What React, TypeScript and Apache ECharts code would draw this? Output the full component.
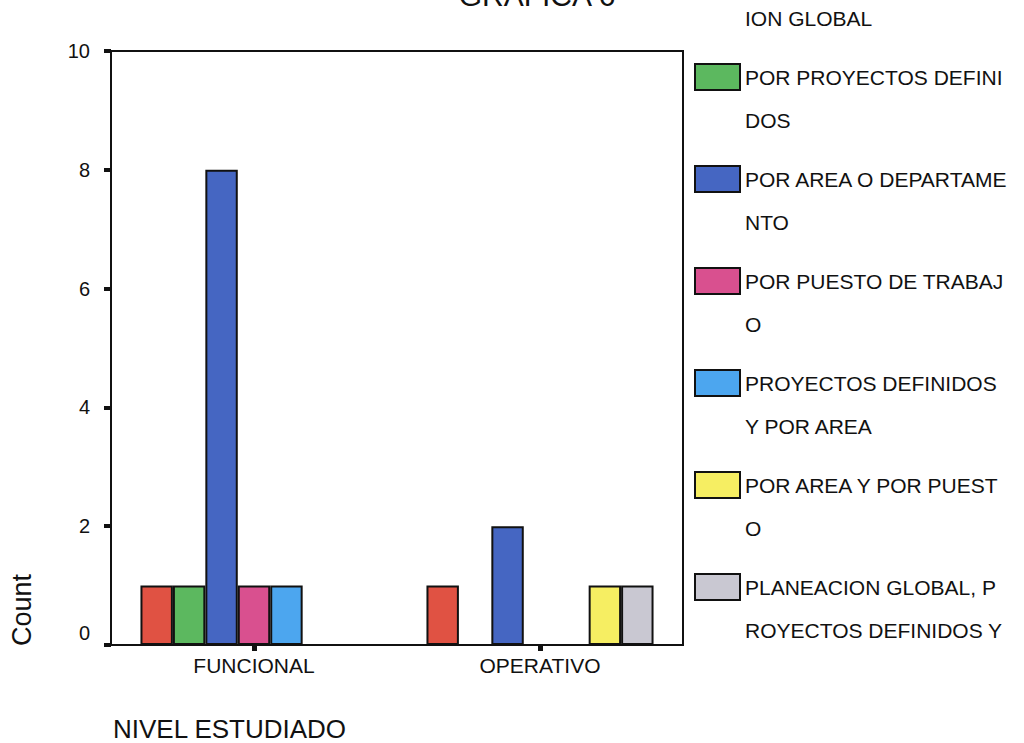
import React, { useEffect, useRef } from "react";
import * as echarts from "echarts";

// Categories on the x axis
const categories = ["FUNCIONAL", "OPERATIVO"];

// One series per planning approach (counts per category)
const seriesNames = [
  "POR MEDIO DE PLANEACION GLOBAL",
  "POR PROYECTOS DEFINIDOS",
  "POR AREA O DEPARTAMENTO",
  "POR PUESTO DE TRABAJO",
  "PROYECTOS DEFINIDOS Y POR AREA",
  "POR AREA Y POR PUESTO",
  "PLANEACION GLOBAL, PROYECTOS DEFINIDOS Y",
];
const planeacionGlobal = [1, 1];
const porProyectos = [1, 0];
const porArea = [8, 2];
const porPuesto = [1, 0];
const proyectosYArea = [1, 0];
const areaYPuesto = [0, 1];
const globalProyectos = [0, 1];
const seriesValues = [
  planeacionGlobal,
  porProyectos,
  porArea,
  porPuesto,
  proyectosYArea,
  areaYPuesto,
  globalProyectos,
];
const seriesColors = [
  "#e05243",
  "#5cb85f",
  "#4566c2",
  "#d9508f",
  "#4ca6ef",
  "#f6ee62",
  "#c9c8d2",
];

const yTicks = [0, 2, 4, 6, 8, 10];

const FONT = "'Liberation Sans', Arial, Helvetica, sans-serif";
const INK = "#111111";

// Legend text wraps every 20 characters
function wrap(s: string, n = 20): string {
  const parts: string[] = [];
  for (let i = 0; i < s.length; i += n) parts.push(s.slice(i, i + n));
  return parts.join("\n");
}

export default function App() {
  const ref = useRef<HTMLDivElement>(null);

  useEffect(() => {
    if (!ref.current) return;
    const chart = echarts.init(ref.current, undefined, { renderer: "svg" });

    const legendTop0 = -25;
    const legendStep = 102;
    const legendItems: any[] = [];
    seriesNames.forEach((name, i) => {
      const cy = legendTop0 + legendStep * i;
      legendItems.push({
        type: "rect",
        shape: { x: 695, y: cy - 13, width: 45, height: 26 },
        style: { fill: seriesColors[i], stroke: "#111", lineWidth: 2 },
      });
      legendItems.push({
        type: "text",
        x: 745,
        y: cy - 21.5,
        style: {
          text: wrap(name),
          fontFamily: FONT,
          fontSize: 21,
          lineHeight: 43,
          fill: INK,
          textAlign: "left",
          textVerticalAlign: "top",
        },
      });
    });

    chart.setOption({
      animation: false,
      backgroundColor: "#ffffff",
      grid: {
        left: 111,
        right: 341,
        top: 51,
        bottom: 98,
        show: true,
        borderColor: "#111",
        borderWidth: 2,
        containLabel: false,
      },
      xAxis: {
        type: "category",
        data: categories,
        axisLine: { show: true, lineStyle: { color: "#111", width: 2 } },
        axisTick: {
          show: true,
          alignWithLabel: true,
          length: 6,
          lineStyle: { color: "#111", width: 5 },
        },
        axisLabel: {
          margin: 10,
          fontFamily: FONT,
          fontSize: 21,
          color: INK,
        },
        splitLine: { show: false },
      },
      yAxis: {
        type: "value",
        min: yTicks[0],
        max: yTicks[yTicks.length - 1],
        interval: 2,
        axisLine: { show: true, lineStyle: { color: "#111", width: 2 } },
        axisTick: {
          show: true,
          length: 7,
          lineStyle: { color: "#111", width: 4 },
        },
        axisLabel: {
          margin: 21,
          fontFamily: FONT,
          fontSize: 20,
          color: INK,
          formatter: (v: number) => (v === 0 ? "{z|0}" : String(v)),
          rich: {
            z: {
              fontFamily: FONT,
              fontSize: 20,
              color: INK,
              padding: [0, 0, 24, 0],
            },
          },
        },
        splitLine: { show: false },
      },
      series: seriesNames.map((name, i) => ({
        name,
        type: "bar",
        data: seriesValues[i].map((v) => (v === 0 ? null : v)),
        barGap: "0%",
        barCategoryGap: "20.6%",
        itemStyle: {
          color: seriesColors[i],
          borderColor: "#111",
          borderWidth: 2,
        },
      })),
      graphic: [
        {
          type: "text",
          x: 537,
          y: -5,
          style: {
            text: "GRAFICA 6",
            fontFamily: FONT,
            fontSize: 30,
            fill: INK,
            textAlign: "center",
            textVerticalAlign: "middle",
          },
        },
        {
          type: "text",
          x: 22,
          y: 610,
          rotation: Math.PI / 2,
          style: {
            text: "Count",
            fontFamily: FONT,
            fontSize: 27,
            lineHeight: 27,
            fill: INK,
            textAlign: "center",
            textVerticalAlign: "middle",
          },
        },
        {
          type: "text",
          x: 113,
          y: 729,
          style: {
            text: "NIVEL ESTUDIADO",
            fontFamily: FONT,
            fontSize: 26,
            lineHeight: 22,
            fill: INK,
            textAlign: "left",
            textVerticalAlign: "middle",
          },
        },
        ...legendItems,
      ],
    });

    return () => chart.dispose();
  }, []);

  return (
    <div
      ref={ref}
      style={{ position: "absolute", left: 0, top: 0, width: 1024, height: 743 }}
    />
  );
}
